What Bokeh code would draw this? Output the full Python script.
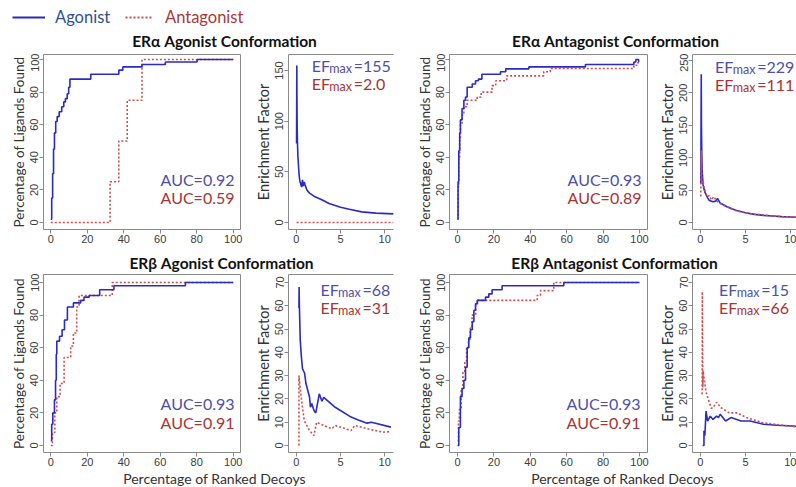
import numpy as np
from bokeh.plotting import figure
from bokeh.layouts import column, row
from bokeh.models import Range1d, FixedTicker, Label, Legend, LegendItem, LinearAxis
from bokeh.embed import file_html
from bokeh.resources import INLINE

# ---------------- data ----------------
# ROC curves: x = percentage of ranked decoys, y = percentage of ligands found (step breakpoints)
roc1_ag_x = [0, 0.5, 1, 1.5, 2, 2.7, 3.5, 4.6, 6, 7.1, 8, 9, 9.8, 10.5, 21.9, 37.3, 39.5, 50, 62.8, 80.2, 100]
roc1_ag_y = [2, 15, 30, 45, 55, 62, 65, 68, 71, 74, 76, 79, 83, 88, 91, 93.5, 95.5, 97, 98.5, 100, 100]
roc1_an_x = [0, 32.5, 37.3, 41.9, 50, 100]
roc1_an_y = [0, 25, 50, 75, 100, 100]

roc2_ag_x = [0, 0.3, 0.7, 1.2, 1.6, 2.5, 3.5, 4.4, 5.3, 8.1, 9.9, 11.5, 13.4, 23.6, 26.5, 39.2, 70.3, 96.9, 98.0, 99.5, 100]
roc2_ag_y = [2, 25, 44, 55, 63, 70, 75, 77, 83, 85, 87, 88, 91, 92.5, 94.3, 95.5, 97, 98.5, 100, 99, 99]
roc2_an_x = [0, 0.3, 0.7, 1.2, 1.6, 2.5, 3.5, 5.3, 10.8, 13, 19, 21, 27, 47.4, 51, 96.9, 98.5, 100]
roc2_an_y = [2, 22, 40, 52, 60, 66, 71, 75, 77, 80, 84, 87, 90, 92.5, 94.5, 96.5, 98, 98]

roc3_ag_x = [0, 0.5, 1.1, 2, 2.6, 3, 3.3, 4.8, 6.2, 7.5, 9.1, 12.4, 16.4, 18.2, 21, 26.8, 34.6, 73.8, 100]
roc3_ag_y = [3, 13, 20, 28, 40, 56, 64, 67, 71, 77, 85, 87.5, 89, 91, 92, 95.5, 98, 100, 100]
roc3_an_x = [0, 0.9, 2.2, 3.3, 5.1, 7.3, 10.9, 12.4, 14.2, 15.5, 33.7, 100]
roc3_an_y = [0, 8, 20, 30, 38, 54, 61, 69, 85, 92, 100, 100]

roc4_ag_x = [0, 0.7, 1.6, 2.5, 3.5, 4.4, 5.3, 6.2, 7.1, 8.1, 9.0, 9.9, 10.8, 15.4, 17.2, 19, 24.5, 58.4, 100]
roc4_ag_y = [0, 11, 30, 35, 40, 48, 60, 66, 71, 76, 83, 87, 89, 91, 93, 95.5, 98, 100, 100]
roc4_an_x = [0, 0.5, 1, 2, 3, 4, 5, 6, 7, 8, 10, 11, 43.8, 45.6, 52.9, 100]
roc4_an_y = [3, 15, 22, 35, 45, 52, 60, 65, 72, 80, 86, 89, 92, 95, 100, 100]

# Enrichment factor curves: x = percentage of ranked decoys (0-10), y = enrichment factor
ef1_ag_x = [0.03, 0.06, 0.08, 0.1, 0.13, 0.18, 0.25, 0.32, 0.4, 0.5, 0.6, 0.7, 0.8, 0.9, 1.0, 1.2, 1.5, 2, 3, 3.7, 5, 6, 7.4, 9, 11]
ef1_ag_y = [78, 155, 115, 95, 80, 66, 56, 47, 41, 38, 35, 42, 36, 40, 37, 32, 29, 26, 22, 18.7, 15, 13, 10.5, 9.3, 8.5]
ef1_an_x = [0.03, 2, 4, 6, 8, 11]
ef1_an_y = [0, 0, 0, 0, 0, 0]

ef2_ag_x = [0.05, 0.1, 0.12, 0.15, 0.2, 0.3, 0.4, 0.5, 0.6, 0.8, 1.0, 1.4, 1.7, 1.9, 2.2, 3, 4, 5, 6, 7, 8, 9, 10, 10.7]
ef2_ag_y = [60, 229, 150, 115, 80, 58, 52, 47, 44, 38, 34, 32, 33, 37, 30, 24, 18.5, 15, 12.5, 11, 10, 9, 8.5, 8]
ef2_an_x = [0.05, 0.1, 0.15, 0.2, 0.3, 0.4, 0.5, 0.6, 0.8, 1.0, 1.2, 1.5, 1.8, 2.5, 3, 4, 5, 6, 7, 8, 9, 10, 10.7]
ef2_an_y = [40, 111, 75, 60, 65, 55, 50, 45, 40, 42, 35, 40, 33, 27, 24, 18, 15, 13, 11.5, 10, 9, 8.5, 8]

ef3_ag_x = [0.3, 0.32, 0.35, 0.45, 0.58, 0.7, 0.94, 1.1, 1.5, 1.6, 1.75, 2.0, 2.2, 2.6, 2.9, 3.1, 4.4, 6.2, 7, 8.0, 8.5, 10.7]
ef3_ag_y = [59, 68, 60, 45, 38, 33, 31, 26.5, 20.7, 16.4, 18, 15, 14, 22.2, 19, 20.7, 16.4, 12.2, 11, 9.6, 10, 7.9]
ef3_an_x = [0.3, 0.3, 0.35, 0.6, 0.9, 1.5, 2.0, 2.3, 3.1, 4.0, 4.4, 6.2, 6.6, 8.0, 9.8, 10.7]
ef3_an_y = [0, 30, 28, 19.3, 10.7, 6.4, 4.3, 10, 8.6, 7.2, 8.6, 6.4, 8.6, 7.2, 5.7, 6]

ef4_ag_x = [0.25, 0.4, 0.4, 0.5, 0.63, 0.8, 1.1, 1.4, 1.8, 2.0, 2.2, 2.8, 3.4, 4.5, 5.5, 7.0, 8.5, 10.2, 10.7]
ef4_ag_y = [0, 0, 6.3, 4.2, 14.8, 10.5, 12.6, 11.2, 12.6, 12, 13.4, 10.5, 12, 10.5, 10.5, 9.1, 8.7, 8.4, 8.2]
ef4_an_x = [0.2, 0.22, 0.27, 0.3, 0.45, 0.55, 0.7, 0.95, 1.2, 1.4, 1.8, 2.3, 3.2, 4.1, 5.1, 6.9, 8.5, 9.8, 10.7]
ef4_an_y = [22, 66, 25, 32, 28, 25, 22, 19, 16, 16.2, 18.6, 16.2, 14, 14, 12, 9.8, 9, 8.4, 8.0]

titles = ["ERα Agonist Conformation", "ERα Antagonist Conformation",
          "ERβ Agonist Conformation", "ERβ Antagonist Conformation"]
auc_ag = ["0.92", "0.93", "0.93", "0.93"]
auc_an = ["0.59", "0.89", "0.91", "0.91"]
efmax_ag = ["155", "229", "68", "15"]
efmax_an = ["2.0", "111", "31", "66"]
series_names = ["Agonist", "Antagonist"]
roc_ticks = [0, 20, 40, 60, 80, 100]
ef_xticks = [0, 5, 10]
ef_yticks_1 = [0, 50, 100, 150]
ef_yticks_2 = [0, 50, 100, 150, 200, 250]
ef_yticks_row2 = [0, 10, 20, 30, 40, 50, 60, 70]

# ---------------- styling ----------------
BLUE = "#2a2ac4"
RED = "#cc4f4f"
TXT_BLUE = "#4f4fa6"
TXT_RED = "#a83434"
GRAY = "#8a8a8a"
FONT = "Lato"
TICK_FONT = "Liberation Sans"


def base_fig(w, h, ml, mr, mt, mb, xr, yr):
    p = figure(width=w, height=h, x_range=Range1d(*xr), y_range=Range1d(*yr),
               output_backend="svg", toolbar_location=None,
               min_border_left=ml, min_border_right=mr,
               min_border_top=mt, min_border_bottom=mb)
    p.grid.visible = False
    p.background_fill_color = "white"
    p.border_fill_color = "white"
    return p


def style_axes(p, xticks, yticks, ylabel, label_size, open_right=False):
    p.xaxis.ticker = FixedTicker(ticks=xticks)
    p.yaxis.ticker = FixedTicker(ticks=yticks)
    for ax in list(p.xaxis) + list(p.yaxis):
        ax.major_tick_out = 4
        ax.major_tick_in = 0
        ax.minor_tick_out = 0
        ax.minor_tick_in = 0
        ax.major_tick_line_color = GRAY
        ax.major_label_text_font = TICK_FONT
        ax.major_label_text_font_size = "11px"
        ax.major_label_text_color = "#3c3c3c"
        ax.major_label_standoff = 1
    p.yaxis.major_label_orientation = "vertical"
    p.yaxis.axis_label = ylabel
    p.yaxis.axis_label_text_font = FONT
    p.yaxis.axis_label_text_font_size = label_size
    p.yaxis.axis_label_text_font_style = "normal"
    p.yaxis.axis_label_text_color = "#333333"
    p.yaxis.axis_label_standoff = 1
    if open_right:
        p.outline_line_color = None
        p.xaxis.axis_line_color = GRAY
        p.yaxis.axis_line_color = GRAY
        top = LinearAxis(ticker=FixedTicker(ticks=[]), axis_line_color=GRAY,
                         major_tick_out=0, major_tick_in=0, minor_tick_out=0, minor_tick_in=0,
                         major_label_standoff=0, major_label_text_font_size="0px")
        p.add_layout(top, "above")
    else:
        p.outline_line_color = GRAY
        p.xaxis.axis_line_color = None
        p.yaxis.axis_line_color = None


def put(p, fx, fy, fw, fh, xr, yr, text, color, size, align="left", dy=0):
    """place a text at pixel offset (fx, fy) from the frame's top-left corner"""
    x = xr[0] + fx * (xr[1] - xr[0]) / fw
    y = yr[1] - fy * (yr[1] - yr[0]) / fh
    p.add_layout(Label(x=x, y=y, y_offset=dy, text=text, text_color=color,
                       text_font=FONT, text_font_size=size, text_align=align,
                       text_baseline="middle"))


def roc_panel(w, h, ml, mr, mt, mb, fw, fh, xr, yr, ag_x, ag_y, an_x, an_y, auc1, auc2, auc_x, auc_y):
    p = base_fig(w, h, ml, mr, mt, mb, xr, yr)
    style_axes(p, roc_ticks, roc_ticks, "Percentage of Ligands Found", "13.5px")
    p.step(an_x, an_y, mode="after", line_color=RED, line_width=1.6, line_dash="2 2")
    p.step(ag_x, ag_y, mode="after", line_color=BLUE, line_width=1.6)
    put(p, auc_x, auc_y[0], fw, fh, xr, yr, "AUC=" + auc1, TXT_BLUE, "16px", "right")
    put(p, auc_x, auc_y[1], fw, fh, xr, yr, "AUC=" + auc2, TXT_RED, "16px", "right")
    return p


def ef_panel(w, h, ml, mr, mt, mb, fw, fh, xr, yr, yticks, ag_x, ag_y, an_x, an_y, ef1, ef2, ef_x, ef_y):
    p = base_fig(w, h, ml, mr, mt, mb, xr, yr)
    style_axes(p, ef_xticks, yticks, "Enrichment Factor", "14.5px", open_right=True)
    p.line(ag_x, ag_y, line_color=BLUE, line_width=1.6)
    p.line(an_x, an_y, line_color=RED, line_width=1.6, line_dash="2 2")
    for val, col, fy in ((ef1, TXT_BLUE, ef_y[0]), (ef2, TXT_RED, ef_y[1])):
        put(p, ef_x, fy, fw, fh, xr, yr, "EF", col, "16px")
        put(p, ef_x + 18, fy, fw, fh, xr, yr, "max", col, "12.5px", dy=-3)
        put(p, ef_x + 43, fy, fw, fh, xr, yr, "=" + val, col, "16px")
    return p


def strip(height):
    s = figure(width=796, height=height, x_range=Range1d(0, 796), y_range=Range1d(0, height),
               x_axis_type=None, y_axis_type=None, min_border=0, outline_line_color=None,
               output_backend="svg", toolbar_location=None)
    s.grid.visible = False
    return s


def title_label(cx, y, text):
    return Label(x=cx, y=y, text=text, text_align="center", text_baseline="middle",
                 text_font=FONT, text_font_style="bold", text_font_size="15.5px",
                 text_color="#111111")


# ---------------- header (legend + titles of row 1) ----------------
HH = 53
hdr = strip(HH)
nan_pt = np.array([np.nan])
r_ag = hdr.line(x=nan_pt, y=nan_pt, line_color=BLUE, line_width=2)
r_an = hdr.line(x=nan_pt, y=nan_pt, line_color=RED, line_width=2, line_dash="2 2")
for item_r, name, col, loc, gw, st in ((r_ag, series_names[0], "#30508e", (12, 26), 33, 10),
                                       (r_an, series_names[1], "#a63a3a", (125, 26), 27, 13)):
    leg = Legend(items=[LegendItem(label=name, renderers=[item_r])], location=loc,
                 orientation="horizontal", glyph_width=gw, glyph_height=16, label_standoff=st,
                 padding=0, margin=0, border_line_color=None, background_fill_alpha=0,
                 label_text_font=FONT, label_text_font_size="16.5px", label_text_color=col)
    hdr.add_layout(leg)
for cx, t in ((224, titles[0]), (615, titles[1])):
    hdr.add_layout(title_label(cx, HH - 40, t))

# ---------------- row 1 ----------------
H1, FH1 = 196, 175
yr_roc1 = (-4.3, 103.1)
f1 = roc_panel(251, H1, 43, 11, 1, 20, 197, FH1, (-4, 104), yr_roc1,
               roc1_ag_x, roc1_ag_y, roc1_an_x, roc1_an_y, auc_ag[0], auc_an[0], 191, (125, 143))
f2 = ef_panel(157, H1, 34, 15, 1, 20, 108, FH1, (-0.88, 10.99), (-6.9, 165.8), ef_yticks_1,
              ef1_ag_x, ef1_ag_y, ef1_an_x, ef1_an_y, efmax_ag[0], efmax_an[0], 24, (11, 29))
f3 = roc_panel(247, H1, 41, 8, 1, 20, 198, FH1, (-4.4, 104.4), yr_roc1,
               roc2_ag_x, roc2_ag_y, roc2_an_x, roc2_an_y, auc_ag[1], auc_an[1], 192, (125, 143))
f4 = ef_panel(141, H1, 35, 0, 1, 20, 106, FH1, (-0.87, 10.65), (-10.8, 259.3), ef_yticks_2,
              ef2_ag_x, ef2_ag_y, ef2_an_x, ef2_an_y, efmax_ag[1], efmax_an[1], 23, (12, 30))

# ---------------- header of row 2 ----------------
HH2 = 24
hdr2 = strip(HH2)
for cx, t in ((221, titles[2]), (614, titles[3])):
    hdr2.add_layout(title_label(cx, 11, t))

# ---------------- row 2 ----------------
H2, FH2 = 197, 178
yr_roc2 = (-4.3, 104.9)
yr_ef2 = (-3.0, 73.4)
f5 = roc_panel(251, H2, 43, 11, 1, 18, 197, FH2, (-4, 104), yr_roc2,
               roc3_ag_x, roc3_ag_y, roc3_an_x, roc3_an_y, auc_ag[2], auc_an[2], 191, (129, 148))
f6 = ef_panel(157, H2, 34, 15, 1, 18, 108, FH2, (-0.88, 10.99), yr_ef2, ef_yticks_row2,
              ef3_ag_x, ef3_ag_y, ef3_an_x, ef3_an_y, efmax_ag[2], efmax_an[2], 33, (15, 33))
f7 = roc_panel(247, H2, 41, 8, 1, 18, 198, FH2, (-4.4, 104.4), yr_roc2,
               roc4_ag_x, roc4_ag_y, roc4_an_x, roc4_an_y, auc_ag[3], auc_an[3], 191, (129, 148))
f8 = ef_panel(141, H2, 35, 0, 1, 18, 106, FH2, (-0.87, 10.65), yr_ef2, ef_yticks_row2,
              ef4_ag_x, ef4_ag_y, ef4_an_x, ef4_an_y, efmax_ag[3], efmax_an[3], 27, (15, 33))

# ---------------- footer (x-axis titles) ----------------
HF = 17
ftr = strip(HF)
for cx in (214, 622):
    ftr.add_layout(Label(x=cx, y=HF - 8, text="Percentage of Ranked Decoys", text_align="center",
                         text_baseline="middle", text_font=FONT, text_font_size="14px",
                         text_color="#333333"))

layout = column(hdr, row(f1, f2, f3, f4), hdr2, row(f5, f6, f7, f8), ftr)
open("out.html", "w").write(file_html(layout, INLINE))
